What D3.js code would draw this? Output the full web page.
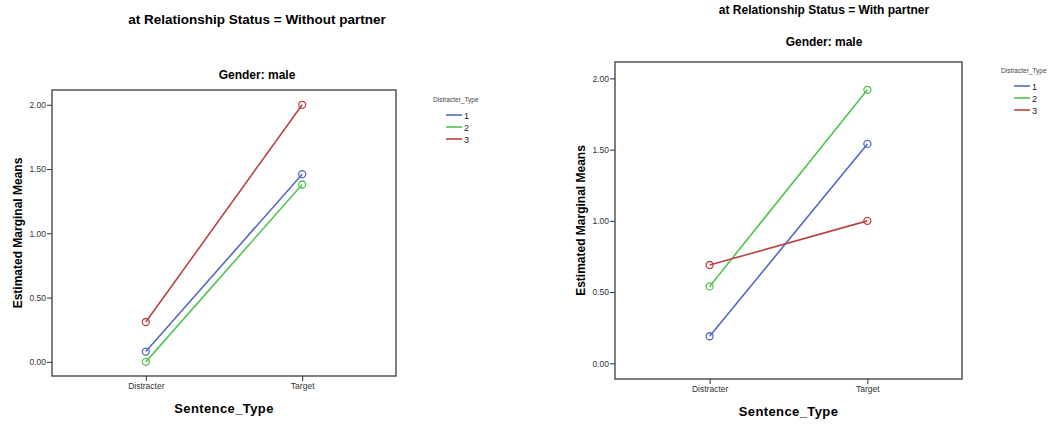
<!DOCTYPE html>
<html>
<head>
<meta charset="utf-8">
<script src="https://cdn.jsdelivr.net/npm/d3@7"></script>
<style>
  body { margin: 0; background: #fff; }
  svg { display: block; font-family: "Liberation Sans", Arial, sans-serif; }
</style>
</head>
<body>
<svg id="chart" width="1049" height="425"></svg>
<script>
// data
const categories = ['Distracter', 'Target'];
const seriesNames = ['1', '2', '3'];
const seriesColors = ['#5468c4', '#52c452', '#b94444'];
const yTicks = [0, 0.5, 1, 1.5, 2];

const withoutPartner = [
  [0.08, 1.46],
  [0.00, 1.38],
  [0.31, 2.00]
];
const withPartner = [
  [0.19, 1.54],
  [0.54, 1.92],
  [0.69, 1.00]
];

const svg = d3.select('#chart');

function drawPanel(opts) {
  const { values, title, titleSize, titleX, titleY, subY, frame, legend } = opts;

  svg.append('text')
    .attr('x', titleX).attr('y', titleY)
    .attr('text-anchor', 'middle')
    .attr('font-size', titleSize).attr('font-weight', 'bold')
    .text(title);

  svg.append('text')
    .attr('x', titleX).attr('y', subY)
    .attr('text-anchor', 'middle')
    .attr('font-size', 12).attr('font-weight', 'bold')
    .text('Gender: male');

  const x = d3.scalePoint()
    .domain(categories)
    .range([frame.x0, frame.x1])
    .padding(0.6);

  const y = d3.scaleLinear()
    .domain([-0.11, 2.115])
    .range([frame.y1, frame.y0]);

  // frame
  svg.append('rect')
    .attr('x', frame.x0).attr('y', frame.y0)
    .attr('width', frame.x1 - frame.x0).attr('height', frame.y1 - frame.y0)
    .attr('fill', 'none').attr('stroke', '#555').attr('stroke-width', 1.5);

  // y axis
  const yAxis = svg.append('g')
    .attr('transform', `translate(${frame.x0},0)`)
    .call(d3.axisLeft(y).tickValues(yTicks).tickFormat(d3.format('.2f')).tickSize(5).tickPadding(1));
  yAxis.select('.domain').remove();
  yAxis.selectAll('line').attr('stroke', '#333');
  yAxis.selectAll('text').attr('font-size', 8.5).attr('fill', '#333')
    .attr('font-family', '"Liberation Sans", Arial, sans-serif');

  // x axis
  const xAxis = svg.append('g')
    .attr('transform', `translate(0,${frame.y1})`)
    .call(d3.axisBottom(x).tickSize(5).tickPadding(2));
  xAxis.select('.domain').remove();
  xAxis.selectAll('line').attr('stroke', '#333');
  xAxis.selectAll('text').attr('font-size', 8.5).attr('fill', '#333')
    .attr('font-family', '"Liberation Sans", Arial, sans-serif');

  // axis titles
  svg.append('text')
    .attr('x', (frame.x0 + frame.x1) / 2 + 0).attr('y', frame.y1 + 37)
    .attr('text-anchor', 'middle')
    .attr('font-size', 13).attr('font-weight', 'bold')
    .attr('letter-spacing', 0.4)
    .text('Sentence_Type');

  svg.append('text')
    .attr('transform', `translate(${frame.x0 - 30},${(frame.y0 + frame.y1) / 2}) rotate(-90)`)
    .attr('text-anchor', 'middle')
    .attr('font-size', 12).attr('font-weight', 'bold')
    .text('Estimated Marginal Means');

  // lines + markers
  const line = d3.line()
    .x((d, i) => x(categories[i]))
    .y(d => y(d));

  values.forEach((vals, s) => {
    svg.append('path')
      .datum(vals)
      .attr('fill', 'none')
      .attr('stroke', seriesColors[s])
      .attr('stroke-width', 1.6)
      .attr('d', line);

    svg.selectAll(null)
      .data(vals)
      .enter().append('circle')
      .attr('cx', (d, i) => x(categories[i]))
      .attr('cy', d => y(d))
      .attr('r', 3.5)
      .attr('fill', 'none')
      .attr('stroke', seriesColors[s])
      .attr('stroke-width', 1.3);
  });

  // legend
  const lg = svg.append('g').attr('transform', `translate(${legend.x},${legend.y})`);
  lg.append('text')
    .attr('x', 0).attr('y', 0)
    .attr('font-size', 6.5).attr('fill', '#444')
    .text('Distracter_Type');
  seriesNames.forEach((name, i) => {
    const yy = 13 + i * 12;
    lg.append('line')
      .attr('x1', 13).attr('x2', 29)
      .attr('y1', yy).attr('y2', yy)
      .attr('stroke', seriesColors[i]).attr('stroke-width', 1.6);
    lg.append('text')
      .attr('x', 31).attr('y', yy + 3.5)
      .attr('font-size', 9).attr('fill', '#222')
      .text(name);
  });
}

drawPanel({
  values: withoutPartner,
  title: 'at Relationship Status = Without partner',
  titleSize: 13.5,
  titleX: 257, titleY: 24, subY: 79,
  frame: { x0: 52, x1: 396, y0: 90, y1: 376 },
  legend: { x: 433, y: 102 }
});

drawPanel({
  values: withPartner,
  title: 'at Relationship Status = With partner',
  titleSize: 12,
  titleX: 824, titleY: 14, subY: 46,
  frame: { x0: 615, x1: 962, y0: 62, y1: 379 },
  legend: { x: 1001, y: 73 }
});
</script>
</body>
</html>
